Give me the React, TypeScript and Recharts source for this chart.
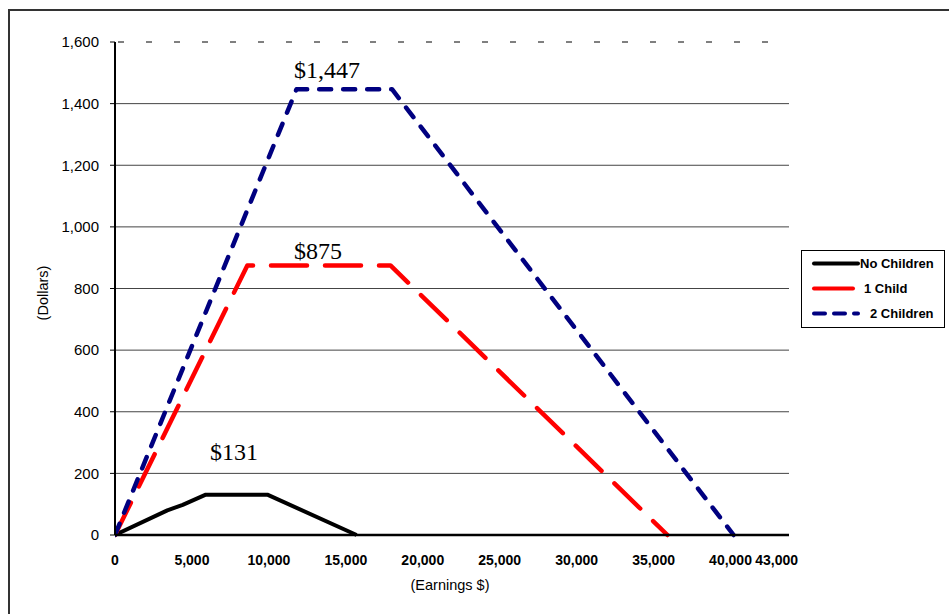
import React from "react";
import {
  LineChart,
  Line,
  XAxis,
  YAxis,
  CartesianGrid,
  ReferenceLine,
  ReferenceDot,
  Legend,
  Label,
} from "recharts";

// earnings ($) and credit ($), one pair of arrays per series
const noChildEarnings = [0, 3400, 4400, 5900, 9900, 15700];
const noChildCredit = [0, 80, 98, 131, 131, 0];

const oneChildEarnings = [0, 8600, 17900, 35900];
const oneChildCredit = [0, 875, 875, 0];

const twoChildEarnings = [0, 11800, 18000, 40200];
const twoChildCredit = [0, 1447, 1447, 0];

const seriesNames = ["No Children", "1 Child", "2 Children"];
const xTicks = [0, 5000, 10000, 15000, 20000, 25000, 30000, 35000, 40000, 43000];
const yTicks = [0, 200, 400, 600, 800, 1000, 1200, 1400, 1600];
const gridValues = [200, 400, 600, 800, 1000, 1200, 1400];

const peakNotes = [
  { text: "$1,447", earnings: 13780, credit: 1511 },
  { text: "$875", earnings: 13190, credit: 925 },
  { text: "$131", earnings: 7730, credit: 272 },
];

const zip = (xs: number[], ys: number[]) =>
  xs.map((x, i) => ({ earnings: x, credit: ys[i] }));

const SANS = "'Liberation Sans', Arial, sans-serif";
const SERIF = "'Liberation Serif', 'Times New Roman', serif";

const legendLook: Record<string, { dash?: string; end: number; textLeft: number }> = {
  "No Children": { end: 56, textLeft: 58 },
  "1 Child": { end: 51, textLeft: 62 },
  "2 Children": { dash: "11 9", end: 56, textLeft: 68 },
};

function LegendBox({ payload }: { payload?: any[] }) {
  const items = seriesNames
    .map((name) => (payload || []).find((p) => p.value === name))
    .filter(Boolean);
  return (
    <div
      style={{
        width: 144,
        height: 78,
        boxSizing: "border-box",
        border: "1px solid #000",
        background: "#fff",
        fontFamily: SANS,
        fontSize: 13,
        fontWeight: 700,
        color: "#000",
      }}
    >
      {items.map((p: any) => {
        const look = legendLook[p.value];
        return (
          <div key={p.value} style={{ position: "relative", height: 25 }}>
            <svg width={60} height={25} style={{ position: "absolute", left: 0, top: 0 }}>
              <line
                x1={12}
                x2={look.end}
                y1={12.5}
                y2={12.5}
                stroke={p.color}
                strokeWidth={4}
                strokeLinecap="round"
                strokeDasharray={look.dash}
              />
            </svg>
            <span style={{ position: "absolute", left: look.textLeft, top: 4.5, lineHeight: "15px" }}>
              {p.value}
            </span>
          </div>
        );
      })}
    </div>
  );
}

export default function App() {
  return (
    <div
      style={{
        position: "absolute",
        left: 0,
        top: 0,
        width: 949,
        height: 614,
        overflow: "hidden",
        background: "#fff",
      }}
    >
      {/* outer chart frame, cut off on the right and bottom */}
      <div
        style={{
          position: "absolute",
          left: 8,
          top: 9,
          width: 1000,
          height: 700,
          borderTop: "2px solid #333",
          borderLeft: "2px solid #333",
        }}
      />
      <div style={{ position: "absolute", left: 0, top: 0 }}>
        <LineChart width={949} height={614} margin={{ top: 42, right: 160, bottom: 0, left: 0 }}>
          <CartesianGrid vertical={false} horizontalValues={gridValues} stroke="#444" />
          <XAxis
            dataKey="earnings"
            type="number"
            domain={[0, 43800]}
            ticks={xTicks}
            interval={0}
            allowDataOverflow
            height={79}
            tickSize={0}
            tickMargin={20}
            tickLine={false}
            axisLine={{ stroke: "#000", strokeWidth: 2.5 }}
            tick={{ fontSize: 14, fontWeight: 700, fill: "#000", fontFamily: SANS }}
            tickFormatter={(v: number) => v.toLocaleString("en-US")}
          >
            <Label
              content={() => (
                <text x={450} y={590} textAnchor="middle" fontSize={14.5} fontFamily={SANS} fill="#000">
                  (Earnings $)
                </text>
              )}
            />
          </XAxis>
          <YAxis
            type="number"
            domain={[0, 1600]}
            ticks={yTicks}
            width={115}
            tickSize={5}
            tickMargin={11}
            axisLine={{ stroke: "#000", strokeWidth: 2 }}
            tickLine={{ stroke: "#000" }}
            tick={{ fontSize: 15, fill: "#000", fontFamily: SANS }}
            tickFormatter={(v: number) => v.toLocaleString("en-US")}
          >
            <Label
              content={() => (
                <text
                  x={43}
                  y={293}
                  transform="rotate(-90, 43, 293)"
                  textAnchor="middle"
                  dominantBaseline="central"
                  fontSize={14.5}
                  fontFamily={SANS}
                  fill="#000"
                >
                  (Dollars)
                </text>
              )}
            />
          </YAxis>
          <ReferenceLine y={1600} stroke="#000" strokeDasharray="0 3 6 19" />
          <Line
            name="No Children"
            data={zip(noChildEarnings, noChildCredit)}
            dataKey="credit"
            type="linear"
            stroke="#000000"
            strokeWidth={4}
            strokeLinejoin="round"
            dot={false}
            activeDot={false}
            isAnimationActive={false}
          />
          <Line
            name="1 Child"
            data={zip(oneChildEarnings, oneChildCredit)}
            dataKey="credit"
            type="linear"
            stroke="#ff0000"
            strokeWidth={4.5}
            strokeDasharray="36 18"
            strokeLinecap="round"
            strokeLinejoin="round"
            dot={false}
            activeDot={false}
            isAnimationActive={false}
          />
          <Line
            name="2 Children"
            data={zip(twoChildEarnings, twoChildCredit)}
            dataKey="credit"
            type="linear"
            stroke="#000080"
            strokeWidth={4.5}
            strokeDasharray="12 12"
            strokeLinecap="round"
            strokeLinejoin="round"
            dot={false}
            activeDot={false}
            isAnimationActive={false}
          />
          {peakNotes.map((n) => (
            <ReferenceDot
              key={n.text}
              x={n.earnings}
              y={n.credit}
              r={0}
              fill="none"
              stroke="none"
              label={{ value: n.text, position: "center", fontSize: 24, fontFamily: SERIF, fill: "#000" }}
            />
          ))}
          <Legend
            layout="vertical"
            align="center"
            verticalAlign="middle"
            content={<LegendBox />}
            wrapperStyle={{ position: "absolute", left: 801, top: 250, width: 144, height: 78 }}
          />
        </LineChart>
      </div>
    </div>
  );
}
